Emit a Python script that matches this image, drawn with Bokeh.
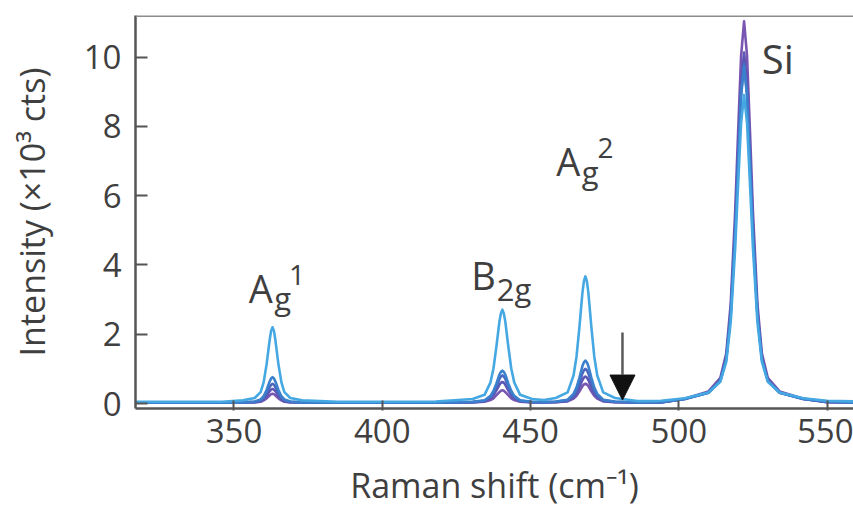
from bokeh.plotting import figure
from bokeh.models import (FixedTicker, Range1d, Span, Label, Arrow, NormalHead,
                          ColumnDataSource)
from bokeh.embed import file_html
from bokeh.resources import INLINE

# Raman shift sample positions (cm^-1)
raman_shift = [317, 332, 346,
               353, 357, 359, 360, 361, 362, 362.5, 363, 363.5, 364, 365, 366, 367, 369, 373,
               385, 400, 418,
               430.5, 434.5, 436.5, 437.5, 438.5, 439.5, 440, 440.5, 441, 441.5, 442.5, 443.5, 444.5, 446.5, 450.5,
               454.5,
               458.5, 462.5, 464.5, 465.5, 466.5, 467.5, 468, 468.5, 469, 469.5, 470.5, 471.5, 472.5, 474.5, 478.5,
               486, 494,
               502, 510, 514, 516, 517.5, 519, 520, 521, 522, 523, 524, 525, 526.5, 528, 530, 534, 542,
               550, 559]

# Intensity (x10^3 cts), five spectra from light blue to purple
spec_1 = [0.05, 0.05, 0.05,
          0.09, 0.16, 0.33, 0.61, 1.13, 1.81, 2.09, 2.20, 2.09, 1.81, 1.13, 0.61, 0.33, 0.16, 0.09,
          0.05, 0.05, 0.06,
          0.13, 0.25, 0.61, 1.01, 1.65, 2.36, 2.60, 2.71, 2.60, 2.36, 1.65, 1.01, 0.61, 0.25, 0.13,
          0.10,
          0.16, 0.32, 0.81, 1.35, 2.22, 3.20, 3.53, 3.67, 3.53, 3.20, 2.22, 1.35, 0.81, 0.32, 0.16,
          0.07, 0.08,
          0.15, 0.32, 0.63, 1.20, 2.35, 4.48, 6.33, 8.10, 8.90, 8.10, 6.33, 4.48, 2.35, 1.20, 0.63, 0.32, 0.15,
          0.08, 0.06]
spec_2 = [0.02, 0.02, 0.02,
          0.03, 0.06, 0.12, 0.21, 0.39, 0.63, 0.72, 0.76, 0.72, 0.63, 0.39, 0.21, 0.12, 0.06, 0.03,
          0.02, 0.02, 0.02,
          0.05, 0.09, 0.22, 0.36, 0.58, 0.83, 0.91, 0.95, 0.91, 0.83, 0.58, 0.36, 0.22, 0.09, 0.05,
          0.04,
          0.06, 0.11, 0.28, 0.46, 0.75, 1.08, 1.19, 1.24, 1.19, 1.08, 0.75, 0.46, 0.28, 0.11, 0.06,
          0.03, 0.04,
          0.13, 0.31, 0.65, 1.28, 2.55, 4.88, 6.92, 8.87, 9.74, 8.87, 6.92, 4.88, 2.55, 1.28, 0.65, 0.31, 0.13,
          0.05, 0.03]
spec_3 = [0.02, 0.02, 0.02,
          0.03, 0.05, 0.09, 0.16, 0.30, 0.47, 0.54, 0.57, 0.54, 0.47, 0.30, 0.16, 0.09, 0.05, 0.03,
          0.02, 0.02, 0.02,
          0.04, 0.08, 0.19, 0.30, 0.49, 0.71, 0.78, 0.81, 0.78, 0.71, 0.49, 0.30, 0.19, 0.08, 0.04,
          0.04,
          0.05, 0.09, 0.23, 0.37, 0.61, 0.87, 0.96, 1.00, 0.96, 0.87, 0.61, 0.37, 0.23, 0.09, 0.05,
          0.03, 0.04,
          0.13, 0.31, 0.66, 1.30, 2.57, 4.93, 6.99, 8.95, 9.83, 8.95, 6.99, 4.93, 2.57, 1.30, 0.66, 0.31, 0.13,
          0.05, 0.03]
spec_4 = [0.02, 0.02, 0.02,
          0.03, 0.04, 0.07, 0.12, 0.22, 0.35, 0.40, 0.42, 0.40, 0.35, 0.22, 0.12, 0.07, 0.04, 0.03,
          0.02, 0.02, 0.02,
          0.04, 0.07, 0.15, 0.24, 0.38, 0.54, 0.60, 0.62, 0.60, 0.54, 0.38, 0.24, 0.15, 0.07, 0.04,
          0.03,
          0.04, 0.08, 0.18, 0.29, 0.48, 0.68, 0.75, 0.78, 0.75, 0.68, 0.48, 0.29, 0.18, 0.08, 0.04,
          0.03, 0.03,
          0.13, 0.32, 0.68, 1.33, 2.65, 5.08, 7.20, 9.22, 10.13, 9.22, 7.20, 5.08, 2.65, 1.33, 0.68, 0.32, 0.13,
          0.04, 0.03]
spec_5 = [0.02, 0.02, 0.02,
          0.03, 0.03, 0.05, 0.09, 0.15, 0.23, 0.27, 0.28, 0.27, 0.23, 0.15, 0.09, 0.05, 0.03, 0.03,
          0.02, 0.02, 0.02,
          0.03, 0.05, 0.10, 0.15, 0.24, 0.33, 0.37, 0.38, 0.37, 0.33, 0.24, 0.15, 0.10, 0.05, 0.03,
          0.03,
          0.04, 0.06, 0.14, 0.22, 0.35, 0.50, 0.55, 0.57, 0.55, 0.50, 0.35, 0.22, 0.14, 0.06, 0.04,
          0.02, 0.03,
          0.14, 0.35, 0.74, 1.45, 2.88, 5.53, 7.84, 10.04, 11.03, 10.04, 7.84, 5.53, 2.88, 1.45, 0.74, 0.35, 0.14,
          0.04, 0.03]

x_ticks = [350, 400, 450, 500, 550]
y_ticks = [0, 2, 4, 6, 8, 10]

colors = ["#45A8E2", "#3B80CD", "#4A66BF", "#5E56B4", "#7856B1"]
series = [spec_1, spec_2, spec_3, spec_4, spec_5]

FONT = "Open Sans"
TXT = "#3f3f3f"

p = figure(width=853, height=517, output_backend="svg", toolbar_location=None,
           x_range=Range1d(316.8, 558.9), y_range=Range1d(-0.144, 11.2),
           min_border_left=135, min_border_top=15, min_border_bottom=109,
           min_border_right=0)
p.outline_line_color = None
p.grid.visible = False
p.background_fill_color = "white"

# draw purple first, light blue last
for ys, c in reversed(list(zip(series, colors))):
    src = ColumnDataSource(dict(x=raman_shift, y=ys))
    p.line("x", "y", source=src, line_color=c, line_width=2.6, line_join="round")

# top frame line
p.add_layout(Span(location=11.2, dimension="width", line_color="#8c8c8c", line_width=3))

for ax in (p.xaxis[0], p.yaxis[0]):
    ax.axis_line_color = "#555555"
    ax.axis_line_width = 2.5
    ax.major_tick_line_color = "#555555"
    ax.major_tick_line_width = 2
    ax.minor_tick_line_color = None
    ax.major_label_text_font = FONT
    ax.major_label_text_font_size = "33px"
    ax.major_label_text_color = TXT
    ax.axis_label_text_font = FONT
    ax.axis_label_text_font_size = "34px"
    ax.axis_label_text_color = TXT
    ax.axis_label_text_font_style = "normal"

p.xaxis.ticker = FixedTicker(ticks=x_ticks)
p.yaxis.ticker = FixedTicker(ticks=y_ticks)
p.xaxis.major_tick_in = 8
p.xaxis.major_tick_out = 2
p.yaxis.major_tick_in = 12
p.yaxis.major_tick_out = 0
p.xaxis.major_label_standoff = 8
p.yaxis.major_label_standoff = 14
p.xaxis.axis_label = "Raman shift (cm\u207b\u00b9)"
p.yaxis.axis_label = "Intensity (\u00d710\u00b3 cts)"
p.xaxis.axis_label_standoff = 16
p.yaxis.axis_label_standoff = 26


def lab(x, y, t, size):
    p.add_layout(Label(x=x, y=y, text=t, text_font=FONT, text_font_size=size,
                       text_color=TXT, text_baseline="alphabetic", text_align="left"))


# A_g^1
lab(355.0, 3.33, "A", "38px")
lab(363.6, 3.04, "g", "31px")
lab(368.6, 3.72, "1", "28px")
# B_2g
lab(430.0, 3.72, "B", "38px")
lab(438.6, 3.30, "2g", "31px")
# A_g^2
lab(458.7, 6.99, "A", "38px")
lab(467.3, 6.68, "g", "31px")
lab(472.6, 7.37, "2", "28px")
# Si
lab(528.0, 9.95, "Si", "40px")

p.add_layout(Arrow(x_start=481.0, y_start=2.05, x_end=481.0, y_end=0.10,
                   line_color="#5a5a5a", line_width=2.5,
                   end=NormalHead(size=25, fill_color="#111111", line_color="#111111")))

open("out.html", "w").write(file_html(p, INLINE))
